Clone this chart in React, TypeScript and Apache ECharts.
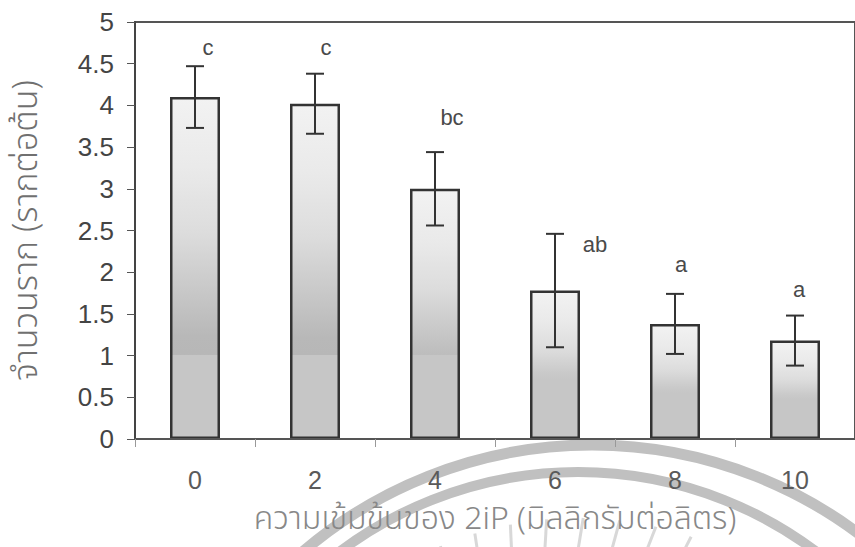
import React, { useEffect, useRef } from "react";
import * as echarts from "echarts";

// ---- data ----
const categories = ["0", "2", "4", "6", "8", "10"];
const means = [4.1, 4.02, 3.0, 1.78, 1.38, 1.18];
const errors = [0.37, 0.36, 0.44, 0.68, 0.36, 0.3];
const letters = ["c", "c", "bc", "ab", "a", "a"];
const letterLevels = [4.69, 4.69, 3.85, 2.33, 2.09, 1.79];
const yTickLabels = ["0", "0.5", "1", "1.5", "2", "2.5", "3", "3.5", "4", "4.5", "5"];

const xTitle = "ความเข้มข้นของ 2iP (มิลลิกรัมต่อลิตร)";
const yTitle = "จำนวนราก (รากต่อต้น)";

// ---- style helpers (not data) ----
const letterDx = [13, 11, 17, 40, 6, 4];
const LATIN = "'Liberation Sans', Arial, Helvetica, sans-serif";
const THAI = "'Noto Sans Thai', 'Noto Sans Thai Looped', Loma, Garuda, 'Noto Sans', sans-serif";

const shadeStops: [number, number][] = [
  [0, 0xf2], [0.2, 0xea], [0.4, 0xdc], [0.57, 0xc8], [0.72, 0xb6], [0.85, 0xbc], [1, 0xc6],
];
function shade(f: number): number {
  for (let i = 1; i < shadeStops.length; i++) {
    const [f0, g0] = shadeStops[i - 1];
    const [f1, g1] = shadeStops[i];
    if (f <= f1) return g0 + ((g1 - g0) * (f - f0)) / (f1 - f0);
  }
  return shadeStops[shadeStops.length - 1][1];
}
function grey(g: number): string {
  const h = Math.round(g).toString(16).padStart(2, "0");
  return "#" + h + h + h;
}
function barGradient(v: number) {
  const fb = v > 1 ? (v - 1) / v : 0;
  const pts: number[] = [];
  for (let f = 0; f <= 1.0001; f += 0.05) pts.push(Math.min(1, f));
  const stops: { offset: number; color: string }[] = [];
  const fs = Array.from(new Set([...pts, Math.max(0, fb - 0.001), fb])).sort((a, b) => a - b);
  fs.forEach((f) => {
    const g = f < fb ? shade(f) : Math.max(shade(f), 0xc6);
    stops.push({ offset: f, color: grey(g) });
  });
  return new echarts.graphic.LinearGradient(0, 0, 0, 1, stops);
}

export default function App() {
  const ref = useRef<HTMLDivElement>(null);
  useEffect(() => {
    if (!ref.current) return;
    const chart = echarts.init(ref.current, undefined, { renderer: "svg" });

    const rays: any[] = [];
    for (let k = -4; k <= 4; k++) {
      const a = ((k * 6 - 90) * Math.PI) / 180;
      const cx = 578, cy = 868;
      rays.push({
        type: "line",
        z: -10,
        shape: {
          x1: cx + 318 * Math.cos(a), y1: cy + 318 * Math.sin(a),
          x2: cx + 350 * Math.cos(a + 0.015), y2: cy + 350 * Math.sin(a + 0.015),
        },
        style: { stroke: "#d8d8d8", lineWidth: 3 },
        silent: true,
      });
    }

    chart.setOption({
      animation: false,
      backgroundColor: "#ffffff",
      grid: {
        left: 135, top: 22, width: 724, bottom: 108,
        show: true, borderColor: "#555", borderWidth: 2, containLabel: false,
      },
      graphic: [
        {
          type: "arc", z: -10, silent: true,
          shape: { cx: 592, cy: 890, r: 445, startAngle: Math.PI, endAngle: 2 * Math.PI },
          style: { stroke: "#c0c0c0", lineWidth: 11, fill: "none" },
        },
        {
          type: "arc", z: -10, silent: true,
          shape: { cx: 578, cy: 868, r: 396, startAngle: Math.PI, endAngle: 2 * Math.PI },
          style: { stroke: "#c0c0c0", lineWidth: 10, fill: "none" },
        },
        ...rays,
      ],
      xAxis: {
        type: "category",
        data: categories,
        boundaryGap: true,
        axisLine: { lineStyle: { color: "#555", width: 2 } },
        axisTick: { show: true, length: 8, lineStyle: { color: "#999", width: 1 } },
        axisLabel: { fontSize: 25, color: "#5a5a5a", margin: 28, fontFamily: LATIN },
        name: xTitle,
        nameLocation: "middle",
        nameGap: 64,
        nameTextStyle: { fontSize: 32, color: "#888", fontWeight: 300, fontFamily: THAI },
        z: 5,
      },
      yAxis: {
        type: "value",
        min: 0,
        max: 5,
        interval: 0.5,
        axisLine: { show: true, lineStyle: { color: "#444", width: 2 } },
        axisTick: { show: true, length: 8, lineStyle: { color: "#555", width: 1 } },
        splitLine: { show: false },
        axisLabel: {
          fontSize: 26, color: "#444", margin: 21, fontFamily: LATIN,
          formatter: (v: number) => yTickLabels[Math.round(v * 2)] ?? String(v),
        },
        name: yTitle,
        nameLocation: "middle",
        nameGap: 92,
        nameTextStyle: { fontSize: 34, color: "#707070", fontWeight: 300, fontFamily: THAI },
        z: 5,
      },
      series: [
        {
          type: "bar",
          barWidth: 50,
          data: means.map((m) => ({
            value: m,
            itemStyle: { color: barGradient(m) },
          })),
          itemStyle: { borderColor: "#333", borderWidth: 2.5 },
          z: 2,
        },
        {
          type: "custom",
          z: 4,
          data: means.map((m, i) => [i, m - errors[i], m + errors[i]]),
          renderItem: (params: any, api: any) => {
            const i = api.value(0);
            const lo = api.coord([i, api.value(1)]);
            const hi = api.coord([i, api.value(2)]);
            const hw = 9;
            const st = { stroke: "#333", lineWidth: 2 };
            return {
              type: "group",
              children: [
                { type: "line", shape: { x1: hi[0], y1: hi[1], x2: lo[0], y2: lo[1] }, style: st },
                { type: "line", shape: { x1: hi[0] - hw, y1: hi[1], x2: hi[0] + hw, y2: hi[1] }, style: st },
                { type: "line", shape: { x1: lo[0] - hw, y1: lo[1], x2: lo[0] + hw, y2: lo[1] }, style: st },
              ],
            };
          },
        },
        {
          type: "custom",
          z: 4,
          data: letters.map((l, i) => [i, letterLevels[i]]),
          renderItem: (params: any, api: any) => {
            const i = api.value(0);
            const p = api.coord([i, api.value(1)]);
            return {
              type: "text",
              x: p[0] + letterDx[i],
              y: p[1],
              style: {
                text: letters[i],
                fontSize: 22,
                fontFamily: LATIN,
                fill: "#4a4a4a",
                align: "center",
                verticalAlign: "middle",
              },
            };
          },
        },
      ],
    });
    return () => chart.dispose();
  }, []);
  return <div ref={ref} style={{ width: 855, height: 547, position: "absolute", left: 0, top: 0 }} />;
}
